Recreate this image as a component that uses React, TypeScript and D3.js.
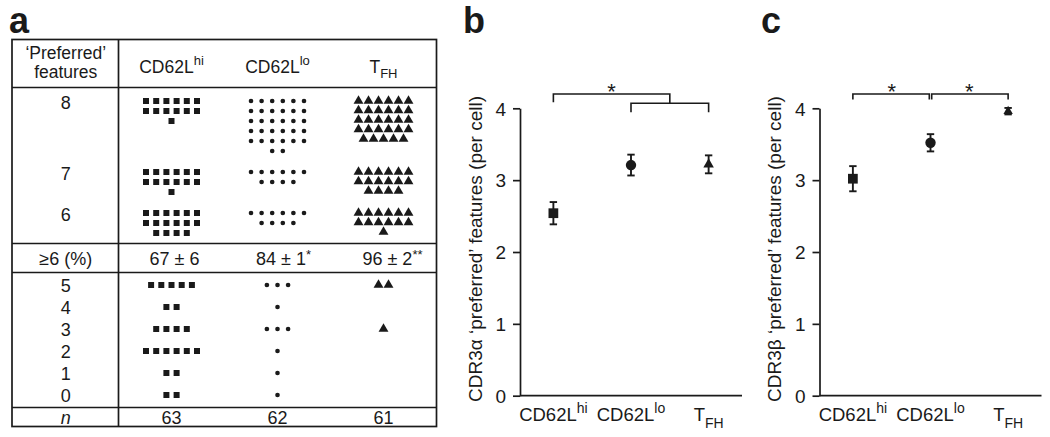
import React, { useEffect, useRef } from "react";
import * as d3 from "d3";

// groups (columns of the table, categories of b and c)
const groups = ["CD62Lhi", "CD62Llo", "TFH"];
const groupMain = ["CD62L", "CD62L", "T"];
const groupSup = ["hi", "lo", ""];
const groupSub = ["", "", "FH"];

// cells per number of 'preferred' features (index = features 0..8)
const hiCounts = [2, 2, 6, 4, 2, 5, 16, 13, 13];
const loCounts = [1, 1, 1, 3, 1, 3, 10, 10, 32];
const tfhCounts = [0, 0, 0, 1, 0, 2, 13, 16, 29];
const upperLevels = [8, 7, 6];
const lowerLevels = [5, 4, 3, 2, 1, 0];
const pctText = ["67 ± 6", "84 ± 1", "96 ± 2"];
const pctStars = ["", "*", "**"];
const nCells = [63, 62, 61];

// panel b / c: mean ± s.e.m.
const alphaMean = [2.54, 3.21, 3.22];
const alphaErr = [0.155, 0.145, 0.125];
const betaMean = [3.02, 3.52, 3.96];
const betaErr = [0.175, 0.12, 0.045];
const yTicks = [0, 1, 2, 3, 4];

const App = () => {
  const svgRef = useRef<SVGSVGElement>(null);

  useEffect(() => {
    const ink = "#1a1a1a";
    const svg = d3.select(svgRef.current);
    svg.selectAll("*").remove();
    svg
      .attr("font-family", "'Liberation Sans', Arial, Helvetica, sans-serif")
      .attr("fill", ink);

    const writeGroup = (t: any, i: number, big: number, small: number, supDy: number, subDy: number) => {
      t.append("tspan").attr("font-size", big).text(groupMain[i]);
      if (groupSup[i]) t.append("tspan").attr("font-size", small).attr("dy", supDy).text(groupSup[i]);
      if (groupSub[i]) t.append("tspan").attr("font-size", small).attr("dy", subDy).text(groupSub[i]);
    };

    const shapes = [d3.symbolSquare, d3.symbolCircle, d3.symbolTriangle];

    // ---------- panel a: table ----------
    const left = 12, right = 436.5, top = 39.5, bottom = 426.5, divX = 118.5;
    const hLines = [87.5, 243.5, 272.5, 407.5];
    const labelX = (left + divX) / 2 + 0.5;
    const fs = 18;
    const tbl = svg.append("g");

    tbl.append("rect")
      .attr("x", left).attr("y", top)
      .attr("width", right - left).attr("height", bottom - top)
      .attr("fill", "none").attr("stroke", ink).attr("stroke-width", 1.7);
    tbl.append("line")
      .attr("x1", divX).attr("x2", divX).attr("y1", top).attr("y2", bottom)
      .attr("stroke", ink).attr("stroke-width", 1.7);
    tbl.selectAll("line.h").data(hLines).join("line")
      .attr("class", "h")
      .attr("x1", left).attr("x2", right)
      .attr("y1", (d) => d).attr("y2", (d) => d)
      .attr("stroke", ink).attr("stroke-width", 1.7);

    const col = d3.scaleBand().domain(groups).range([divX, right]);
    const cx = (i: number) => (col(groups[i]) as number) + col.bandwidth() / 2;

    // header
    tbl.append("text").attr("x", labelX).attr("y", 59).attr("text-anchor", "middle")
      .attr("font-size", 17.5).text("\u2018Preferred\u2019");
    tbl.append("text").attr("x", labelX).attr("y", 78).attr("text-anchor", "middle")
      .attr("font-size", 17.5).text("features");
    groups.forEach((g, i) => {
      const t = tbl.append("text").attr("x", cx(i)).attr("y", 73).attr("text-anchor", "middle");
      writeGroup(t, i, 17.5, 13, -8, 5);
    });

    // row positions
    const counts = [hiCounts, loCounts, tfhCounts];
    const perRow = 6;
    const pitchX = [10.2, 10.6, 10];
    const pitchY = [10, 10, 9.5];
    const symSize = [36, 17, 42];
    const levelY = new Map<number, number>();
    let yCur = 101;
    upperLevels.forEach((f) => {
      levelY.set(f, yCur);
      const nRows = d3.max(counts, (c) => Math.ceil(c[f] / perRow)) as number;
      yCur += (nRows - 1) * 10 + 21;
    });
    const lowerY = d3.scalePoint<number>().domain(lowerLevels).range([285, 395]);
    lowerLevels.forEach((f) => levelY.set(f, lowerY(f) as number));

    // level labels
    [...upperLevels, ...lowerLevels].forEach((f) => {
      const isUpper = upperLevels.includes(f);
      tbl.append("text")
        .attr("x", labelX)
        .attr("y", (levelY.get(f) as number) + (isUpper ? 8 : 6.5))
        .attr("text-anchor", "middle")
        .attr("font-size", fs)
        .text(f);
    });

    // symbols
    counts.forEach((c, gi) => {
      const sym = d3.symbol(shapes[gi], symSize[gi]);
      const pts: { x: number; y: number }[] = [];
      c.forEach((n, f) => {
        for (let k = 0; k < n; k++) {
          const row = Math.floor(k / perRow);
          const inRow = Math.min(perRow, n - row * perRow);
          const j = k % perRow;
          pts.push({
            x: cx(gi) + (j - (inRow - 1) / 2) * pitchX[gi],
            y: (levelY.get(f) as number) + row * pitchY[gi],
          });
        }
      });
      tbl.append("g").selectAll("path").data(pts).join("path")
        .attr("d", sym as any)
        .attr("transform", (d) => `translate(${d.x},${d.y})`)
        .attr("fill", ink);
    });

    // >=6 (%) row
    tbl.append("text").attr("x", labelX).attr("y", 264.5).attr("text-anchor", "middle")
      .attr("font-size", fs).text("\u22656 (%)");
    pctText.forEach((p, i) => {
      const t = tbl.append("text")
        .attr("x", cx(i) + 3 + pctStars[i].length * 3)
        .attr("y", 264.5)
        .attr("text-anchor", "middle");
      t.append("tspan").attr("font-size", fs).text(p);
      if (pctStars[i]) t.append("tspan").attr("font-size", 13).attr("dy", -6).text(pctStars[i]);
    });

    // n row
    tbl.append("text").attr("x", labelX).attr("y", 423.5).attr("text-anchor", "middle")
      .attr("font-size", fs).attr("font-style", "italic").text("n");
    nCells.forEach((n, i) => {
      tbl.append("text").attr("x", cx(i)).attr("y", 423.5).attr("text-anchor", "middle")
        .attr("font-size", fs).text(n);
    });

    // ---------- panels b and c ----------
    const y = d3.scaleLinear().domain([0, 4]).range([395.7, 108.3]);

    const bracket = (g: any, x1: number, x2: number, yTop: number, l1: number, l2: number) => {
      g.append("path")
        .attr("d", `M${x1},${yTop + l1}V${yTop}H${x2}V${yTop + l2}`)
        .attr("fill", "none").attr("stroke", ink).attr("stroke-width", 1.6);
    };
    const star = (g: any, x: number, yb: number) => {
      g.append("text").attr("x", x).attr("y", yb).attr("text-anchor", "middle")
        .attr("font-size", 22).text("*");
    };

    const panel = (x0: number, means: number[], errs: number[], title: string, triSize: number) => {
      const g = svg.append("g");
      const x = d3.scalePoint().domain(groups).range([x0, x0 + 222]).padding(0.43);

      const axis = g.append("g")
        .attr("transform", `translate(${x0},0)`)
        .call(d3.axisLeft(y).tickValues(yTicks).tickSize(7).tickPadding(7).tickSizeOuter(0).tickFormat(d3.format("d")) as any);
      axis.select(".domain").attr("stroke", ink).attr("stroke-width", 1.7);
      axis.selectAll(".tick line").attr("stroke", ink).attr("stroke-width", 1.7);
      axis.selectAll(".tick text").attr("fill", ink).attr("font-size", 19)
        .attr("font-family", "'Liberation Sans', Arial, sans-serif").attr("dy", "0.36em");

      g.append("line")
        .attr("x1", x0).attr("x2", x0 + 222)
        .attr("y1", y(0)).attr("y2", y(0))
        .attr("stroke", ink).attr("stroke-width", 1.7);

      groups.forEach((grp, i) => {
        const t = g.append("text").attr("x", x(grp) as number).attr("y", 421).attr("text-anchor", "middle");
        writeGroup(t, i, 18.5, 14, -8, 7);
      });

      g.append("text")
        .attr("transform", `translate(${x0 - 38.5},249) rotate(-90)`)
        .attr("text-anchor", "middle")
        .attr("font-size", 19)
        .text(title);

      const pts = groups.map((grp, i) => ({ x: x(grp) as number, m: means[i], e: errs[i], i }));
      const eb = g.append("g").attr("stroke", ink).attr("stroke-width", 1.9);
      pts.forEach((p) => {
        eb.append("line").attr("x1", p.x).attr("x2", p.x).attr("y1", y(p.m - p.e)).attr("y2", y(p.m + p.e));
        [p.m - p.e, p.m + p.e].forEach((v) => {
          eb.append("line").attr("x1", p.x - 3.7).attr("x2", p.x + 3.7).attr("y1", y(v)).attr("y2", y(v));
        });
      });
      const sizes = [95, 85, triSize];
      g.append("g").selectAll("path").data(pts).join("path")
        .attr("d", (p) => d3.symbol(shapes[p.i], sizes[p.i])() as string)
        .attr("transform", (p) => `translate(${p.x},${y(p.m)})`)
        .attr("fill", ink);
      return { g, x };
    };

    // b
    const b = panel(520, alphaMean, alphaErr, "CDR3\u03b1 \u2018preferred\u2019 features (per cell)", 48);
    const bx = (k: string) => b.x(k) as number;
    const innerTop = y(4) - 5;
    const outerTop = y(4) - 14.3;
    const midLoT = (bx("CD62Llo") + bx("TFH")) / 2;
    bracket(b.g, bx("CD62Llo"), bx("TFH"), innerTop, 9, 9);
    bracket(b.g, bx("CD62Lhi"), midLoT, outerTop, 8.3, innerTop - outerTop);
    star(b.g, (bx("CD62Lhi") + midLoT) / 2, 99);

    // c
    const c = panel(819.5, betaMean, betaErr, "CDR3\u03b2 \u2018preferred\u2019 features (per cell)", 38);
    const cxp = (k: string) => c.x(k) as number;
    bracket(c.g, cxp("CD62Lhi"), cxp("CD62Llo") - 1.2, outerTop, 5.5, 5.5);
    bracket(c.g, cxp("CD62Llo") + 1.2, cxp("TFH"), outerTop, 5.5, 5.5);
    star(c.g, (cxp("CD62Lhi") + cxp("CD62Llo")) / 2, 99);
    star(c.g, (cxp("CD62Llo") + cxp("TFH")) / 2, 99);

    // panel letters
    [["a", 9, 32.5], ["b", 463, 33], ["c", 761, 33]].forEach(([l, lx, ly]) => {
      svg.append("text").attr("x", lx as number).attr("y", ly as number)
        .attr("font-size", 36).attr("font-weight", "bold").text(l as string);
    });
  }, []);

  return (
    <svg
      ref={svgRef}
      width={1050}
      height={437}
      style={{ position: "absolute", left: 0, top: 0, background: "#fff" }}
    ></svg>
  );
};

export default App;
